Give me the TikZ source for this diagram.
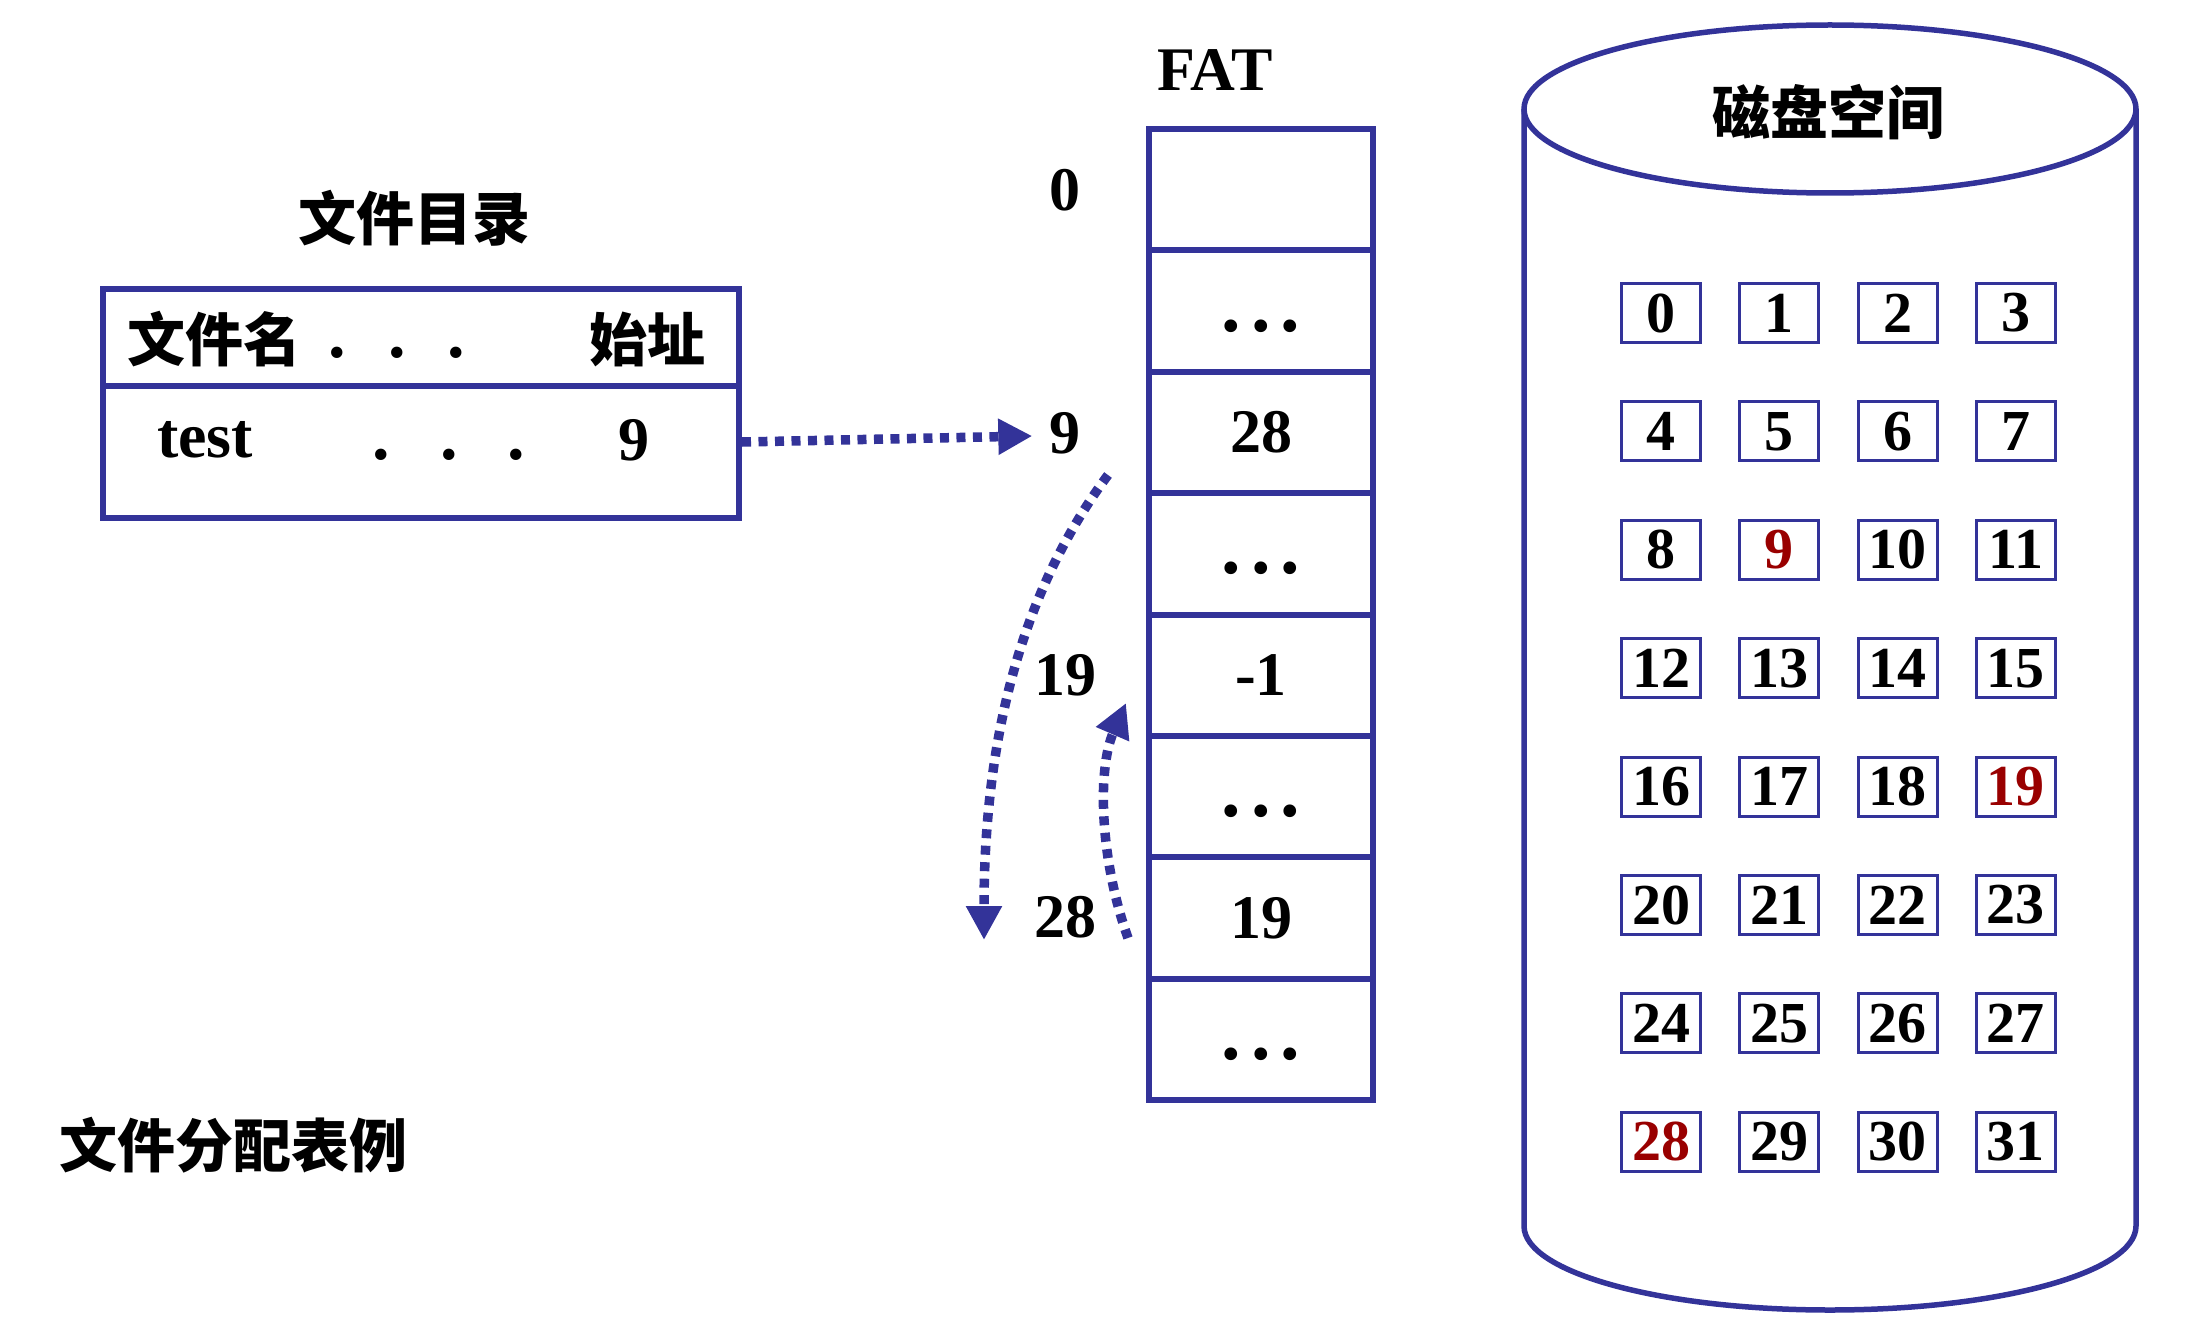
\documentclass[tikz,border=0pt]{standalone}
\usepackage{fontspec}
\setmainfont{Liberation Serif}
\newfontfamily\cjk{Noto Sans CJK SC}
\usetikzlibrary{arrows.meta}
\definecolor{fatblue}{RGB}{51,51,153}
\definecolor{hired}{RGB}{153,0,0}
\newcommand\fatdots{\vphantom{0}{\fontsize{78}{80}\selectfont.\hspace{10pt}.\hspace{10pt}.}}
\begin{document}
\begin{tikzpicture}[x=1pt,y=-1pt,
  num/.style={font=\fontsize{62}{70}\selectfont\bfseries, inner sep=0pt},
  cjkt/.style={font=\fontsize{58}{66}\selectfont\cjk\bfseries, inner sep=0pt},
  tablebox/.style={draw=fatblue, line width=6pt, minimum width=636pt, inner sep=0pt},
  fatcell/.style={draw=fatblue, line width=6pt, minimum width=224pt, minimum height=121.4pt, inner sep=0pt, font=\fontsize{62}{70}\selectfont\bfseries},
  diskbox/.style={draw=fatblue, line width=3pt, minimum width=79pt, minimum height=59pt, inner sep=0pt, font=\fontsize{58}{66}\selectfont\bfseries},
  link/.style={draw=fatblue, line width=9.5pt, dash pattern=on 9pt off 7.5pt, -{Triangle[length=34pt,width=34pt]}},
  cyl/.style={draw=fatblue, line width=5.5pt},
]
\useasboundingbox (0,0) rectangle (2203,1324);

% file directory
\node[cjkt] (dirtitle) at (414,218) {文件目录};
\node[tablebox, minimum height=97pt] (dirhead) at (421,337.5) {};
\node[tablebox, minimum height=132pt] (dirrow) at (421,452) {};
\node[cjkt] (hname) at (214,339) {文件名};
\node[num, font=\fontsize{70}{74}\selectfont\bfseries] (hdots) at (397,353) {.\hspace{42pt}.\hspace{42pt}.};
\node[cjkt] (haddr) at (647,339) {始址};
\node[num, font=\fontsize{64}{70}\selectfont\bfseries] (ftest) at (205,440) {test};
\node[num, font=\fontsize{70}{74}\selectfont\bfseries] (rdots) at (449,455) {.\hspace{50pt}.\hspace{50pt}.};
\node[num] (fstart) at (634,440) {9};

\node[cjkt, anchor=west] (caption) at (59,1145) {文件分配表例};

% FAT
\node[num] (fattitle) at (1215,70) {FAT};
\node[fatcell] (f1) at (1261,189.7) {};
\node[fatcell] (f2) at (1261,311.1) {\fatdots};
\node[fatcell] (f3) at (1261,432.5) {28};
\node[fatcell] (f4) at (1261,553.9) {\fatdots};
\node[fatcell] (f5) at (1261,675.3) {-1};
\node[fatcell] (f6) at (1261,796.7) {\fatdots};
\node[fatcell] (f7) at (1261,918.1) {19};
\node[fatcell] (f8) at (1261,1039.5) {\fatdots};

\node[num] (l0) at (1065,190) {0};
\node[num] (l9) at (1065,433) {9};
\node[num] (l19) at (1065,675) {19};
\node[num] (l28) at (1065,917) {28};

% links
\coordinate (a2s) at (1108,475);
\coordinate (a2e) at (984,940);
\coordinate (a3s) at (1128,938);
\coordinate (a3e) at (1126,703);
\draw[link] ([yshift=10pt]dirrow.east) -- ([xshift=-17pt,yshift=-3pt]l9.west);
\draw[link] (a2s) .. controls (1030,580) and (984,720) .. (a2e);
\draw[link] (a3s) .. controls (1100,860) and (1097,770) .. (a3e);

% disk space
\draw[cyl] (1830,109) ellipse [x radius=306pt, y radius=84pt];
\draw[cyl] (1524,109) -- (1524,1226) .. controls (1524,1272.4) and (1661,1310) .. (1830,1310) .. controls (1999,1310) and (2136,1272.4) .. (2136,1226) -- (2136,109);
\node[cjkt] (disktitle) at (1828,112) {磁盘空间};

\foreach \r in {0,...,7}{\foreach \c in {0,...,3}{
  \pgfmathtruncatemacro\n{4*\r+\c}
  \def\boxcol{black}
  \ifnum\n=9 \def\boxcol{hired}\fi
  \ifnum\n=19 \def\boxcol{hired}\fi
  \ifnum\n=28 \def\boxcol{hired}\fi
  \node[diskbox, text=\boxcol] (b\n) at ({1661+118.3*\c},{313+118.4*\r}) {\n};
}}
\end{tikzpicture}
\end{document}
